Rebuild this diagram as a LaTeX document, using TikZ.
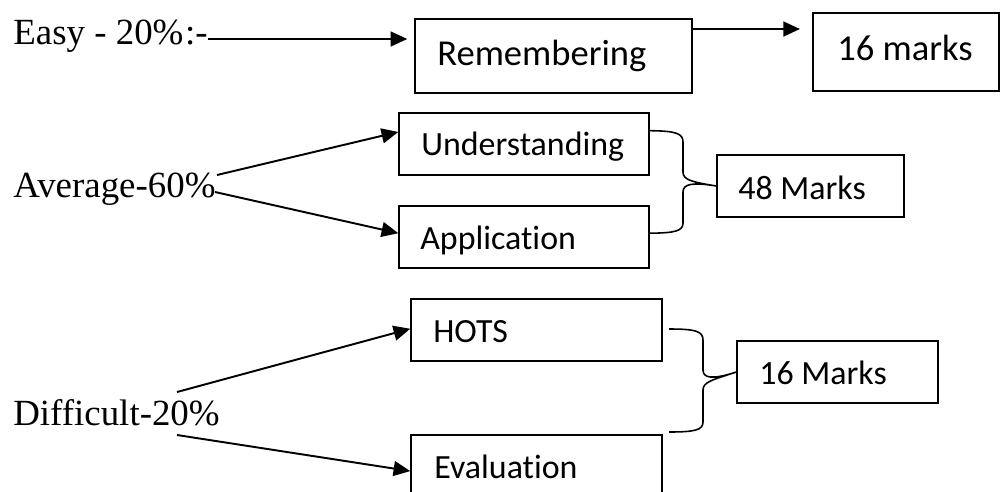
\documentclass[tikz,border=0pt]{standalone}
\usepackage{fontspec}
\setmainfont{Liberation Serif}
\newfontfamily\boxfont[Ligatures=NoCommon]{Carlito}
\usetikzlibrary{arrows.meta,calc}
\begin{document}
\begin{tikzpicture}[x=0.02cm,y=-0.02cm,
  boxed/.style={draw,line width=0.85pt,inner sep=0pt,minimum height=1.24cm},
  blabel/.style={anchor=base west,inner sep=0pt,font=\boxfont\fontsize{19.3}{23}\selectfont},
  biglabel/.style={blabel,font=\boxfont\fontsize{20.8}{25}\selectfont},
  slabel/.style={anchor=base west,inner sep=0pt,font=\fontsize{21}{25}\selectfont},
  arr/.style={line width=1.1pt,-{Triangle[length=9.5pt,width=8.5pt]}},
  brace/.style={line width=0.9pt}]
\clip (0,0) rectangle (1000,491);
\useasboundingbox (0,0) rectangle (1000,491);
% boxes
\node[boxed,minimum width=5.54cm,minimum height=1.48cm] (rem) at (553.5,56) {};
\node[boxed,minimum width=3.72cm,minimum height=1.56cm] (m16) at (906,52) {};
\node[boxed,minimum width=5.0cm] (und) at (524,144) {};
\node[boxed,minimum width=5.0cm] (app) at (524,237) {};
\node[boxed,minimum width=3.74cm] (m48) at (810.5,186) {};
\node[boxed,minimum width=5.02cm] (hots) at (536.5,330) {};
\node[boxed,minimum width=5.02cm] (eval) at (536.5,466) {};
\node[boxed,minimum width=4.02cm] (m16b) at (837.5,372) {};
% box texts
\node[biglabel] (remt) at (437,65) {Remembering};
\node[biglabel] (m16t) at (837,60) {16 marks};
\node[blabel] (undt) at (421,155) {Understanding};
\node[blabel] (appt) at (420,249) {Application};
\node[blabel] (m48t) at (738,199) {48 Marks};
\node[blabel] (hotst) at (433,342) {HOTS};
\node[blabel] (evalt) at (434,478) {Evaluation};
\node[blabel] (m16bt) at (759,384) {16 Marks};
% left labels
\node[slabel] (easy) at (13,44) {Easy - 20\%\kern1pt:-};
\node[slabel] (avg) at (13,197) {Average-60\%};
\node[slabel] (diff) at (13,425) {Difficult-20\%};
% connector anchors
\coordinate (e0) at (208,39);
\coordinate (r0) at (692,29);
\coordinate (a1) at (217,175);
\coordinate (a2) at (215,192);
\coordinate (d1) at (177,392);
\coordinate (d2) at (177,435);
% arrows
\draw[arr,shorten >=4pt] (e0) -- (e0 -| rem.west);
\draw[arr,shorten >=7pt] (r0) -- (r0 -| m16.west);
\draw[arr] (a1) -- ($(und.north west)!0.31!(und.south west)$);
\draw[arr] (a2) -- ($(app.north west)!0.44!(app.south west)$);
\draw[arr] (d1) -- ($(hots.north west)!0.48!(hots.south west)$);
\draw[arr] (d2) -- ($(eval.north west)!0.58!(eval.south west)$);
% braces
\coordinate (b1t) at ($(und.north east)!0.29!(und.south east)$);
\coordinate (b1b) at ($(app.north east)!0.44!(app.south east)$);
\draw[brace] (b1t) .. controls (675,131) and (683,133) .. (683,142) -- (683,172)
  .. controls (683,180) and (692,182) .. (m48.west)
  .. controls (692,182) and (683,184) .. (683,192) -- (683,223)
  .. controls (683,231) and (675,233) .. (b1b);
\coordinate (b2t) at (669,329);
\coordinate (b2b) at (669,432);
\draw[brace] (b2t) .. controls (695,329) and (703,331) .. (703,340) -- (703,370)
  .. controls (703,378) and (712,380) .. (m16b.west)
  .. controls (712,380) and (703,382) .. (703,390) -- (703,422)
  .. controls (703,430) and (695,432) .. (b2b);
\end{tikzpicture}
\end{document}
